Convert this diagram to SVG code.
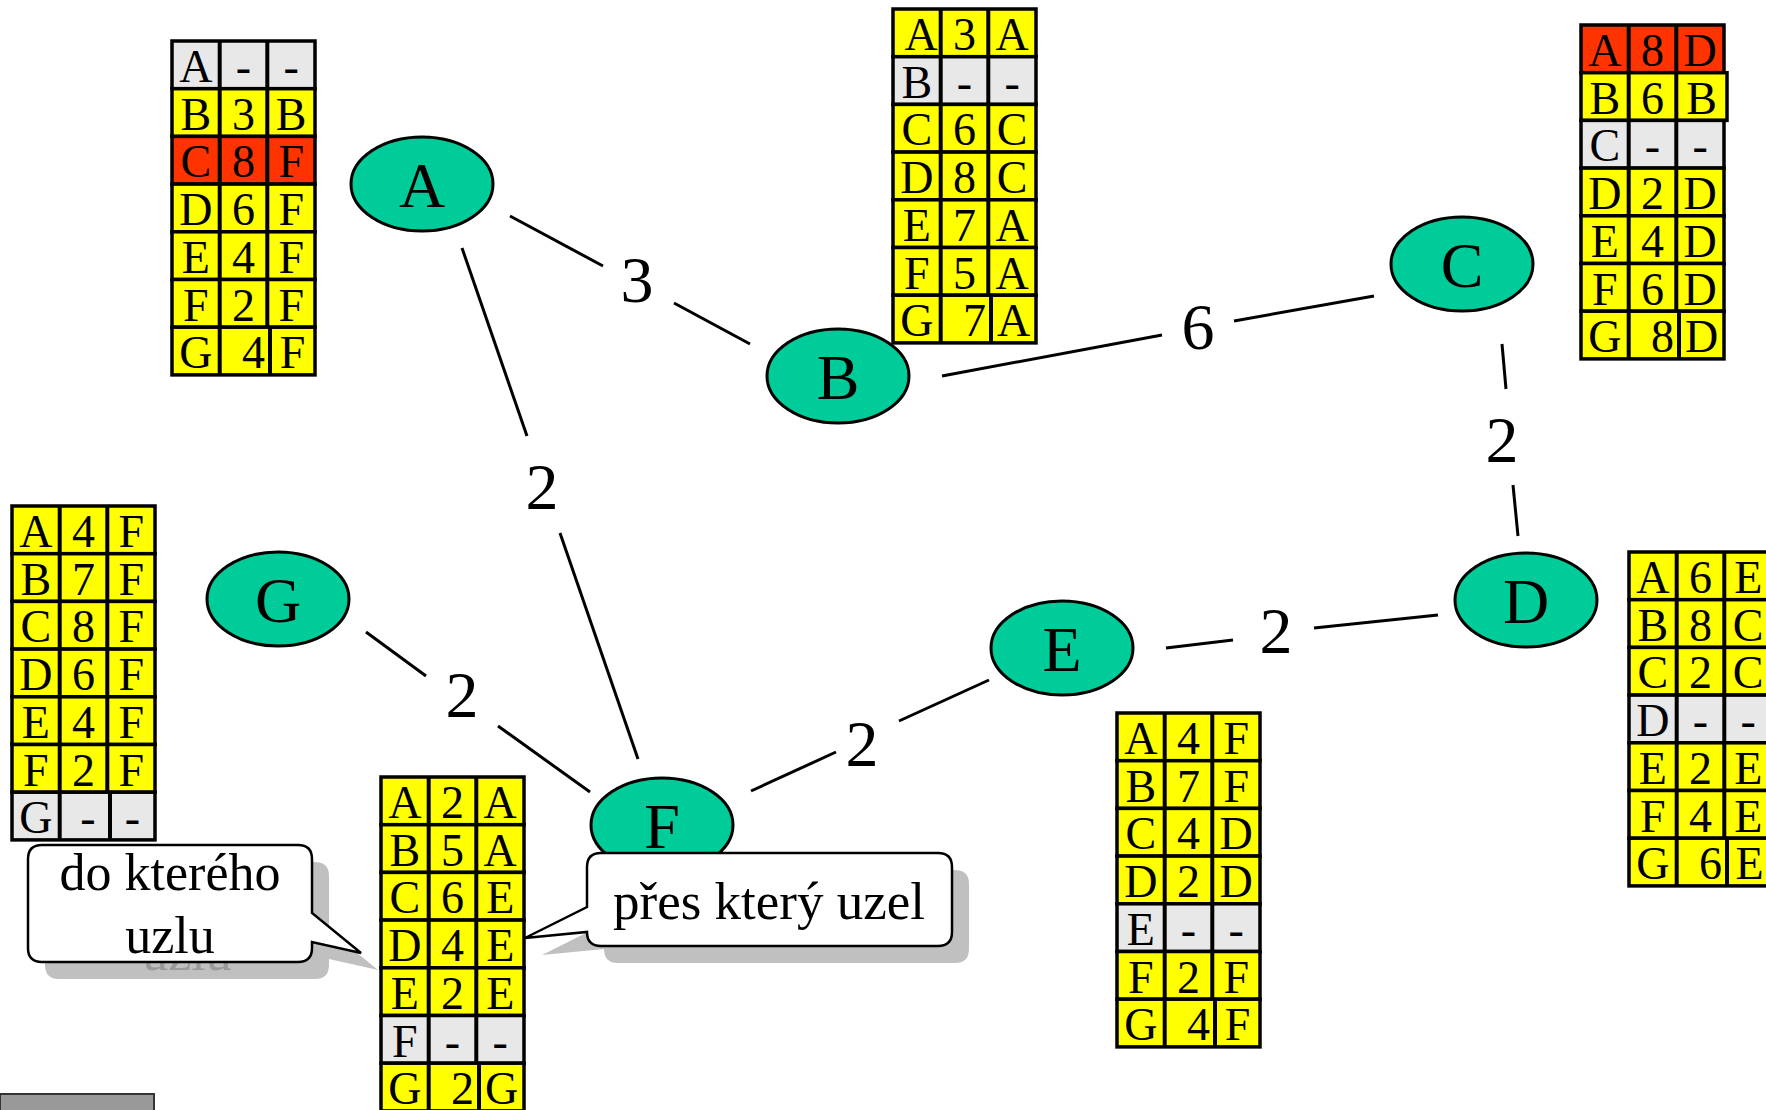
<svg xmlns="http://www.w3.org/2000/svg" width="1766" height="1110" viewBox="0 0 1766 1110">
<style>
text{font-family:"Liberation Serif","Times New Roman",serif;fill:#000}
.t{font-size:46px;text-anchor:middle}
.te{font-size:46px;text-anchor:end}
.row{stroke:#000;stroke-width:3.5}
.y{fill:#ffff00}
.r{fill:#ff3300}
.g{fill:#e8e8e8}
.vl{stroke:#000;stroke-width:4}
.edge{stroke:#000;stroke-width:3;fill:none}
.el{font-size:66px;text-anchor:middle}
.node{fill:#00cc99;stroke:#000;stroke-width:3}
.nl{font-size:64px;text-anchor:middle}
.call{fill:#fff;stroke:#000;stroke-width:2.5}
.shadow{fill:#c0c0c0}
.ct{font-size:52px;text-anchor:middle}
.ct2{font-size:53px;text-anchor:middle}
</style>

<rect id="grey-bar" x="0" y="1094" width="154" height="20" fill="#999" stroke="#333" stroke-width="2"/>

<g id="connectors">
  <line class="edge" x1="510" y1="216" x2="603" y2="266"/>
  <line class="edge" x1="674" y1="303" x2="750" y2="344"/>
  <text class="el" x="637" y="302">3</text>
  <line class="edge" x1="462" y1="248" x2="527" y2="436"/>
  <line class="edge" x1="560" y1="533" x2="638" y2="759"/>
  <text class="el" x="542" y="509">2</text>
  <line class="edge" x1="366" y1="632" x2="426" y2="676"/>
  <line class="edge" x1="498" y1="726" x2="590" y2="792"/>
  <text class="el" x="462" y="717">2</text>
  <line class="edge" x1="942" y1="376" x2="1162" y2="335"/>
  <line class="edge" x1="1234" y1="321" x2="1374" y2="296"/>
  <text class="el" x="1198" y="349">6</text>
  <line class="edge" x1="1502" y1="344" x2="1506" y2="389"/>
  <line class="edge" x1="1513" y1="485" x2="1518" y2="536"/>
  <text class="el" x="1502" y="462">2</text>
  <line class="edge" x1="1166" y1="648" x2="1233" y2="640"/>
  <line class="edge" x1="1314" y1="628" x2="1438" y2="615"/>
  <text class="el" x="1276" y="653">2</text>
  <line class="edge" x1="751" y1="791" x2="836" y2="752"/>
  <line class="edge" x1="899" y1="721" x2="989" y2="680"/>
  <text class="el" x="862" y="766">2</text>
</g>

<g id="node-A"><ellipse class="node" cx="422" cy="184" rx="71" ry="47"/><text class="nl" x="422" y="207">A</text></g>
<g id="node-B"><ellipse class="node" cx="838" cy="376" rx="71" ry="47"/><text class="nl" x="838" y="399">B</text></g>
<g id="node-C"><ellipse class="node" cx="1462" cy="264" rx="71" ry="47"/><text class="nl" x="1462" y="287">C</text></g>
<g id="node-D"><ellipse class="node" cx="1526" cy="600" rx="71" ry="47"/><text class="nl" x="1526" y="623">D</text></g>
<g id="node-E"><ellipse class="node" cx="1062" cy="648" rx="71" ry="47"/><text class="nl" x="1062" y="671">E</text></g>
<g id="node-F"><ellipse class="node" cx="662" cy="825" rx="71" ry="47"/><text class="nl" x="662" y="848">F</text></g>
<g id="node-G"><ellipse class="node" cx="278" cy="599" rx="71" ry="47"/><text class="nl" x="278" y="622">G</text></g>

<g id="table-A" transform="translate(172,41)">
  <rect class="row g" x="0" y="0" width="143" height="47.7"/>
  <rect class="row y" x="0" y="47.7" width="143" height="47.7"/>
  <rect class="row r" x="0" y="95.4" width="143" height="47.7"/>
  <rect class="row y" x="0" y="143.1" width="143" height="47.7"/>
  <rect class="row y" x="0" y="190.8" width="143" height="47.7"/>
  <rect class="row y" x="0" y="238.5" width="143" height="47.7"/>
  <rect class="row y" x="0" y="286.2" width="143" height="47.7"/>
  <line class="vl" x1="47.7" y1="0" x2="47.7" y2="286.2"/><line class="vl" x1="95.3" y1="0" x2="95.3" y2="286.2"/>
  <line class="vl" x1="47.7" y1="286.2" x2="47.7" y2="333.9"/><line class="vl" x1="98" y1="286.2" x2="98" y2="333.9"/>
  <text class="t" x="23.8" y="41">A</text><text class="t" x="71.5" y="41">-</text><text class="t" x="119.2" y="41">-</text>
  <text class="t" x="23.8" y="88.7">B</text><text class="t" x="71.5" y="88.7">3</text><text class="t" x="119.2" y="88.7">B</text>
  <text class="t" x="23.8" y="136.4">C</text><text class="t" x="71.5" y="136.4">8</text><text class="t" x="119.2" y="136.4">F</text>
  <text class="t" x="23.8" y="184.1">D</text><text class="t" x="71.5" y="184.1">6</text><text class="t" x="119.2" y="184.1">F</text>
  <text class="t" x="23.8" y="231.8">E</text><text class="t" x="71.5" y="231.8">4</text><text class="t" x="119.2" y="231.8">F</text>
  <text class="t" x="23.8" y="279.5">F</text><text class="t" x="71.5" y="279.5">2</text><text class="t" x="119.2" y="279.5">F</text>
  <text class="t" x="23.8" y="327.2">G</text><text class="te" x="93" y="327.2">4</text><text class="t" x="120.5" y="327.2">F</text>
</g>

<g id="table-B" transform="translate(893,9)">
  <rect class="row y" x="0" y="0" width="143" height="47.7"/>
  <rect class="row g" x="0" y="47.7" width="143" height="47.7"/>
  <rect class="row y" x="0" y="95.4" width="143" height="47.7"/>
  <rect class="row y" x="0" y="143.1" width="143" height="47.7"/>
  <rect class="row y" x="0" y="190.8" width="143" height="47.7"/>
  <rect class="row y" x="0" y="238.5" width="143" height="47.7"/>
  <rect class="row y" x="0" y="286.2" width="143" height="47.7"/>
  <line class="vl" x1="47.7" y1="0" x2="47.7" y2="286.2"/><line class="vl" x1="95.3" y1="0" x2="95.3" y2="286.2"/>
  <line class="vl" x1="47.7" y1="286.2" x2="47.7" y2="333.9"/><line class="vl" x1="98" y1="286.2" x2="98" y2="333.9"/>
  <text class="t" x="28" y="41">A</text><text class="t" x="71.5" y="41">3</text><text class="t" x="119.2" y="41">A</text>
  <text class="t" x="23.8" y="88.7">B</text><text class="t" x="71.5" y="88.7">-</text><text class="t" x="119.2" y="88.7">-</text>
  <text class="t" x="23.8" y="136.4">C</text><text class="t" x="71.5" y="136.4">6</text><text class="t" x="119.2" y="136.4">C</text>
  <text class="t" x="23.8" y="184.1">D</text><text class="t" x="71.5" y="184.1">8</text><text class="t" x="119.2" y="184.1">C</text>
  <text class="t" x="23.8" y="231.8">E</text><text class="t" x="71.5" y="231.8">7</text><text class="t" x="119.2" y="231.8">A</text>
  <text class="t" x="23.8" y="279.5">F</text><text class="t" x="71.5" y="279.5">5</text><text class="t" x="119.2" y="279.5">A</text>
  <text class="t" x="23.8" y="327.2">G</text><text class="te" x="93" y="327.2">7</text><text class="t" x="120.5" y="327.2">A</text>
</g>

<g id="table-C" transform="translate(1581,25)">
  <rect class="row r" x="0" y="0" width="143" height="47.7"/>
  <rect class="row y" x="0" y="47.7" width="146" height="47.7"/>
  <rect class="row g" x="0" y="95.4" width="143" height="47.7"/>
  <rect class="row y" x="0" y="143.1" width="143" height="47.7"/>
  <rect class="row y" x="0" y="190.8" width="143" height="47.7"/>
  <rect class="row y" x="0" y="238.5" width="143" height="47.7"/>
  <rect class="row y" x="0" y="286.2" width="143" height="47.7"/>
  <line class="vl" x1="47.7" y1="0" x2="47.7" y2="286.2"/><line class="vl" x1="95.3" y1="0" x2="95.3" y2="286.2"/>
  <line class="vl" x1="47.7" y1="286.2" x2="47.7" y2="333.9"/><line class="vl" x1="98" y1="286.2" x2="98" y2="333.9"/>
  <text class="t" x="23.8" y="41">A</text><text class="t" x="71.5" y="41">8</text><text class="t" x="119.2" y="41">D</text>
  <text class="t" x="23.8" y="88.7">B</text><text class="t" x="71.5" y="88.7">6</text><text class="t" x="120.5" y="88.7">B</text>
  <text class="t" x="23.8" y="136.4">C</text><text class="t" x="71.5" y="136.4">-</text><text class="t" x="119.2" y="136.4">-</text>
  <text class="t" x="23.8" y="184.1">D</text><text class="t" x="71.5" y="184.1">2</text><text class="t" x="119.2" y="184.1">D</text>
  <text class="t" x="23.8" y="231.8">E</text><text class="t" x="71.5" y="231.8">4</text><text class="t" x="119.2" y="231.8">D</text>
  <text class="t" x="23.8" y="279.5">F</text><text class="t" x="71.5" y="279.5">6</text><text class="t" x="119.2" y="279.5">D</text>
  <text class="t" x="23.8" y="327.2">G</text><text class="te" x="93" y="327.2">8</text><text class="t" x="120.5" y="327.2">D</text>
</g>

<g id="table-D" transform="translate(1629,552)">
  <rect class="row y" x="0" y="0" width="143" height="47.7"/>
  <rect class="row y" x="0" y="47.7" width="143" height="47.7"/>
  <rect class="row y" x="0" y="95.4" width="143" height="47.7"/>
  <rect class="row g" x="0" y="143.1" width="143" height="47.7"/>
  <rect class="row y" x="0" y="190.8" width="143" height="47.7"/>
  <rect class="row y" x="0" y="238.5" width="143" height="47.7"/>
  <rect class="row y" x="0" y="286.2" width="143" height="47.7"/>
  <line class="vl" x1="47.7" y1="0" x2="47.7" y2="286.2"/><line class="vl" x1="95.3" y1="0" x2="95.3" y2="286.2"/>
  <line class="vl" x1="47.7" y1="286.2" x2="47.7" y2="333.9"/><line class="vl" x1="98" y1="286.2" x2="98" y2="333.9"/>
  <text class="t" x="23.8" y="41">A</text><text class="t" x="71.5" y="41">6</text><text class="t" x="119.2" y="41">E</text>
  <text class="t" x="23.8" y="88.7">B</text><text class="t" x="71.5" y="88.7">8</text><text class="t" x="119.2" y="88.7">C</text>
  <text class="t" x="23.8" y="136.4">C</text><text class="t" x="71.5" y="136.4">2</text><text class="t" x="119.2" y="136.4">C</text>
  <text class="t" x="23.8" y="184.1">D</text><text class="t" x="71.5" y="184.1">-</text><text class="t" x="119.2" y="184.1">-</text>
  <text class="t" x="23.8" y="231.8">E</text><text class="t" x="71.5" y="231.8">2</text><text class="t" x="119.2" y="231.8">E</text>
  <text class="t" x="23.8" y="279.5">F</text><text class="t" x="71.5" y="279.5">4</text><text class="t" x="119.2" y="279.5">E</text>
  <text class="t" x="23.8" y="327.2">G</text><text class="te" x="93" y="327.2">6</text><text class="t" x="120.5" y="327.2">E</text>
</g>

<g id="table-E" transform="translate(1117,713)">
  <rect class="row y" x="0" y="0" width="143" height="47.7"/>
  <rect class="row y" x="0" y="47.7" width="143" height="47.7"/>
  <rect class="row y" x="0" y="95.4" width="143" height="47.7"/>
  <rect class="row y" x="0" y="143.1" width="143" height="47.7"/>
  <rect class="row g" x="0" y="190.8" width="143" height="47.7"/>
  <rect class="row y" x="0" y="238.5" width="143" height="47.7"/>
  <rect class="row y" x="0" y="286.2" width="143" height="47.7"/>
  <line class="vl" x1="47.7" y1="0" x2="47.7" y2="286.2"/><line class="vl" x1="95.3" y1="0" x2="95.3" y2="286.2"/>
  <line class="vl" x1="47.7" y1="286.2" x2="47.7" y2="333.9"/><line class="vl" x1="98" y1="286.2" x2="98" y2="333.9"/>
  <text class="t" x="23.8" y="41">A</text><text class="t" x="71.5" y="41">4</text><text class="t" x="119.2" y="41">F</text>
  <text class="t" x="23.8" y="88.7">B</text><text class="t" x="71.5" y="88.7">7</text><text class="t" x="119.2" y="88.7">F</text>
  <text class="t" x="23.8" y="136.4">C</text><text class="t" x="71.5" y="136.4">4</text><text class="t" x="119.2" y="136.4">D</text>
  <text class="t" x="23.8" y="184.1">D</text><text class="t" x="71.5" y="184.1">2</text><text class="t" x="119.2" y="184.1">D</text>
  <text class="t" x="23.8" y="231.8">E</text><text class="t" x="71.5" y="231.8">-</text><text class="t" x="119.2" y="231.8">-</text>
  <text class="t" x="23.8" y="279.5">F</text><text class="t" x="71.5" y="279.5">2</text><text class="t" x="119.2" y="279.5">F</text>
  <text class="t" x="23.8" y="327.2">G</text><text class="te" x="93" y="327.2">4</text><text class="t" x="120.5" y="327.2">F</text>
</g>

<g id="table-F" transform="translate(381,777)">
  <rect class="row y" x="0" y="0" width="143" height="47.7"/>
  <rect class="row y" x="0" y="47.7" width="143" height="47.7"/>
  <rect class="row y" x="0" y="95.4" width="143" height="47.7"/>
  <rect class="row y" x="0" y="143.1" width="143" height="47.7"/>
  <rect class="row y" x="0" y="190.8" width="143" height="47.7"/>
  <rect class="row g" x="0" y="238.5" width="143" height="47.7"/>
  <rect class="row y" x="0" y="286.2" width="143" height="47.7"/>
  <line class="vl" x1="47.7" y1="0" x2="47.7" y2="286.2"/><line class="vl" x1="95.3" y1="0" x2="95.3" y2="286.2"/>
  <line class="vl" x1="47.7" y1="286.2" x2="47.7" y2="333.9"/><line class="vl" x1="98" y1="286.2" x2="98" y2="333.9"/>
  <text class="t" x="23.8" y="41">A</text><text class="t" x="71.5" y="41">2</text><text class="t" x="119.2" y="41">A</text>
  <text class="t" x="23.8" y="88.7">B</text><text class="t" x="71.5" y="88.7">5</text><text class="t" x="119.2" y="88.7">A</text>
  <text class="t" x="23.8" y="136.4">C</text><text class="t" x="71.5" y="136.4">6</text><text class="t" x="119.2" y="136.4">E</text>
  <text class="t" x="23.8" y="184.1">D</text><text class="t" x="71.5" y="184.1">4</text><text class="t" x="119.2" y="184.1">E</text>
  <text class="t" x="23.8" y="231.8">E</text><text class="t" x="71.5" y="231.8">2</text><text class="t" x="119.2" y="231.8">E</text>
  <text class="t" x="23.8" y="279.5">F</text><text class="t" x="71.5" y="279.5">-</text><text class="t" x="119.2" y="279.5">-</text>
  <text class="t" x="23.8" y="327.2">G</text><text class="te" x="93" y="327.2">2</text><text class="t" x="120.5" y="327.2">G</text>
</g>

<g id="table-G" transform="translate(12,506)">
  <rect class="row y" x="0" y="0" width="143" height="47.7"/>
  <rect class="row y" x="0" y="47.7" width="143" height="47.7"/>
  <rect class="row y" x="0" y="95.4" width="143" height="47.7"/>
  <rect class="row y" x="0" y="143.1" width="143" height="47.7"/>
  <rect class="row y" x="0" y="190.8" width="143" height="47.7"/>
  <rect class="row y" x="0" y="238.5" width="143" height="47.7"/>
  <rect class="row g" x="0" y="286.2" width="143" height="47.7"/>
  <line class="vl" x1="47.7" y1="0" x2="47.7" y2="286.2"/><line class="vl" x1="95.3" y1="0" x2="95.3" y2="286.2"/>
  <line class="vl" x1="47.7" y1="286.2" x2="47.7" y2="333.9"/><line class="vl" x1="98" y1="286.2" x2="98" y2="333.9"/>
  <text class="t" x="23.8" y="41">A</text><text class="t" x="71.5" y="41">4</text><text class="t" x="119.2" y="41">F</text>
  <text class="t" x="23.8" y="88.7">B</text><text class="t" x="71.5" y="88.7">7</text><text class="t" x="119.2" y="88.7">F</text>
  <text class="t" x="23.8" y="136.4">C</text><text class="t" x="71.5" y="136.4">8</text><text class="t" x="119.2" y="136.4">F</text>
  <text class="t" x="23.8" y="184.1">D</text><text class="t" x="71.5" y="184.1">6</text><text class="t" x="119.2" y="184.1">F</text>
  <text class="t" x="23.8" y="231.8">E</text><text class="t" x="71.5" y="231.8">4</text><text class="t" x="119.2" y="231.8">F</text>
  <text class="t" x="23.8" y="279.5">F</text><text class="t" x="71.5" y="279.5">2</text><text class="t" x="119.2" y="279.5">F</text>
  <text class="t" x="23.8" y="327.2">G</text><text class="t" x="76" y="327.2">-</text><text class="t" x="120.5" y="327.2">-</text>
</g>

<g id="callout-do-ktereho">
  <path class="shadow" transform="translate(17,17)" d="M42,845 H298 Q312,845 312,859 V913 L361,953 L312,942 V948 Q312,962 298,962 H42 Q28,962 28,948 V859 Q28,845 42,845 Z"/>
  <text class="ct" x="187" y="970" style="fill:#9a9a9a">uzlu</text>
  <path class="call" d="M42,845 H298 Q312,845 312,859 V913 L361,953 L312,942 V948 Q312,962 298,962 H42 Q28,962 28,948 V859 Q28,845 42,845 Z"/>
  <text class="ct" x="170" y="890">do kterého</text>
  <text class="ct" x="170" y="953">uzlu</text>
</g>

<g id="callout-pres-ktery">
  <path class="shadow" transform="translate(17,17)" d="M601,853 H938 Q952,853 952,867 V932 Q952,946 938,946 H601 Q587,946 587,932 V932 L525,938 L587,907 V867 Q587,853 601,853 Z"/>
  <path class="call" d="M601,853 H938 Q952,853 952,867 V932 Q952,946 938,946 H601 Q587,946 587,932 V932 L525,938 L587,907 V867 Q587,853 601,853 Z"/>
  <text class="ct2" x="769" y="919">přes který uzel</text>
</g>
</svg>
